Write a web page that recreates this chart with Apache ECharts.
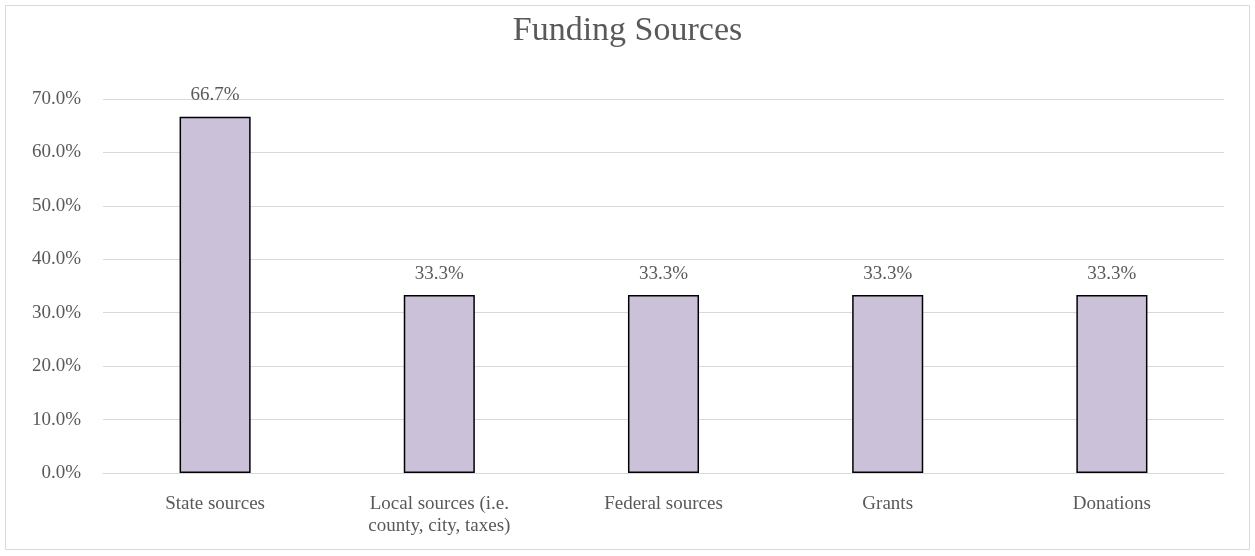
<!DOCTYPE html>
<html>
<head>
<meta charset="utf-8">
<script src="https://cdn.jsdelivr.net/npm/echarts@6/dist/echarts.min.js"></script>
<style>
  html, body { margin: 0; padding: 0; background: #fff; }
  #chart { width: 1255px; height: 556px; }
</style>
</head>
<body>
<div id="chart"></div>
<script>
// Funding sources: share of respondents reporting each source (%)
const categories = ['State sources', 'Local sources (i.e.\ncounty, city, taxes)', 'Federal sources', 'Grants', 'Donations'];
const shares = [66.7, 33.3, 33.3, 33.3, 33.3];
const yTicks = { min: 0, max: 70, interval: 10 };

const serif = '"Liberation Serif", "DejaVu Serif", serif';
const chart = echarts.init(document.getElementById('chart'));
chart.setOption({
  animation: false,
  backgroundColor: '#fff',
  textStyle: { fontFamily: serif },
  title: {
    text: 'Funding Sources',
    left: 'center',
    top: 9,
    textStyle: { fontFamily: serif, fontSize: 34, fontWeight: 'normal', color: '#595959' }
  },
  graphic: [{
    type: 'rect',
    shape: { x: 5.5, y: 5.5, width: 1244, height: 544 },
    style: { fill: null, stroke: '#d9d9d9', lineWidth: 1 },
    silent: true
  }],
  grid: { left: 103, right: 31, top: 99, bottom: 83 },
  xAxis: {
    type: 'category',
    data: categories,
    axisLine: { show: true, lineStyle: { color: '#d9d9d9', width: 1 } },
    axisTick: { show: false },
    axisLabel: { color: '#595959', fontSize: 19, fontFamily: serif, margin: 20, lineHeight: 22, interval: 0 }
  },
  yAxis: {
    type: 'value',
    min: yTicks.min,
    max: yTicks.max,
    interval: yTicks.interval,
    axisLine: { show: false },
    axisTick: { show: false },
    splitLine: { lineStyle: { color: '#d9d9d9', width: 1 } },
    axisLabel: {
      color: '#595959', fontSize: 19, fontFamily: serif, margin: 22,
      formatter: v => v.toFixed(1) + '%'
    }
  },
  series: [{
    type: 'bar',
    data: shares,
    barWidth: '31.7%',
    itemStyle: { color: '#cbc2da', borderColor: '#000', borderWidth: 1.5 },
    label: {
      show: true,
      position: 'top',
      distance: 12,
      color: '#595959',
      fontSize: 19,
      fontFamily: serif,
      formatter: p => p.value.toFixed(1) + '%'
    }
  }]
});
</script>
</body>
</html>
